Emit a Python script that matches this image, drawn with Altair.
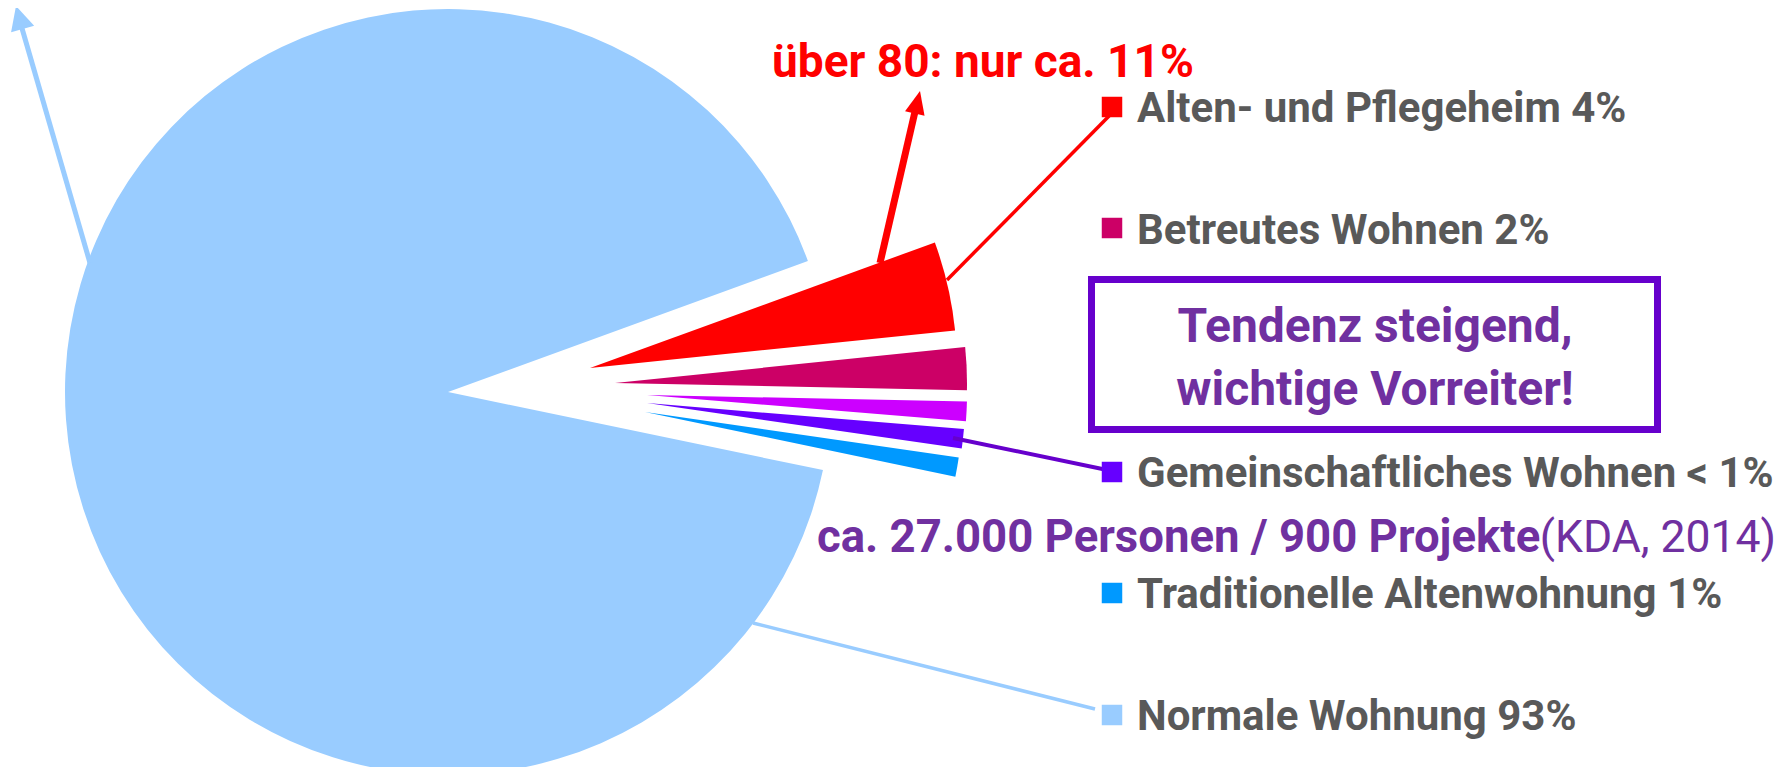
import math
import altair as alt
import pandas as pd

# ---------------- data ----------------
categories = ["Alten- und Pflegeheim", "Betreutes Wohnen", "Sonstiges",
              "Gemeinschaftliches Wohnen", "Traditionelle Altenwohnung", "Normale Wohnung"]
values = [4, 2, 1, 1, 1, 93]

legend_categories = ["Alten- und Pflegeheim", "Betreutes Wohnen", "Gemeinschaftliches Wohnen",
                     "Traditionelle Altenwohnung", "Normale Wohnung"]
legend_labels = ["Alten- und Pflegeheim 4%", "Betreutes Wohnen 2%", "Gemeinschaftliches Wohnen < 1%",
                 "Traditionelle Altenwohnung 1%", "Normale Wohnung 93%"]

note_red = "über 80: nur ca. 11%"
note_box = ["Tendenz steigend,", "wichtige Vorreiter!"]
note_count = "ca. 27.000 Personen / 900 Projekte"
note_source = "(KDA, 2014)"

# ---------------- style / layout ----------------
W, H = 1769, 759
CX, CY = 440, 384
START = math.radians(70)
colors = ["#FF0000", "#CC0066", "#CC00FF", "#6600FF", "#0099FF", "#99CCFF"]
explode_dx = [142, 167, 199, 199, 197, 0]
explode_dy = [-24, -9, 3, 11, 20, 0]
radii = [367, 352, 320, 318, 317, 383]
FONT = "Roboto, Liberation Sans, sans-serif"
GREY = "#595959"
PURPLE = "#7030A0"

pie_df = pd.DataFrame({
    "category": categories, "value": values, "order": list(range(len(values))),
    "dx": explode_dx, "dy": explode_dy, "r": radii,
})

cscale = alt.Scale(domain=categories, range=colors)

pie = alt.Chart(pie_df).transform_joinaggregate(
    total="sum(value)"
).transform_window(
    cum="sum(value)", sort=[alt.SortField("order")], frame=[None, 0]
).transform_calculate(
    f0="(datum.cum - datum.value) / datum.total",
    f1="datum.cum / datum.total",
    px=f"{CX} + datum.dx",
    py=f"{CY} + datum.dy",
).mark_arc().encode(
    theta=alt.Theta("f0:Q", scale=alt.Scale(domain=[0, 1], range=[START, START + 2 * math.pi])),
    theta2="f1:Q",
    radius=alt.Radius("r:Q", scale=None),
    x=alt.X("px:Q", scale=None, axis=None),
    y=alt.Y("py:Q", scale=None, axis=None),
    color=alt.Color("category:N", scale=cscale, legend=None),
)

seg_df = pd.DataFrame({
    "x": [82, 872, 939, 945, 745],
    "y": [255, 255, 272, 430, 615],
    "x2": [11, 909, 1104, 1104, 1087],
    "y2": [10, 95, 105, 463, 701],
    "c": ["#99CCFF", "#FF0000", "#FF0000", "#6600CC", "#99CCFF"],
    "w": [5, 7, 3.5, 4, 3.5],
})
segs = alt.Chart(seg_df).mark_rule().encode(
    x=alt.X("x:Q", scale=None, axis=None), y=alt.Y("y:Q", scale=None, axis=None),
    x2="x2:Q", y2="y2:Q",
    color=alt.Color("c:N", scale=None),
    strokeWidth=alt.StrokeWidth("w:Q", scale=None),
)

head_df = pd.DataFrame({
    "x": [11.3, 909.4], "y": [9.5, 94.2], "a": [343.9, 13.1],
    "c": ["#99CCFF", "#FF0000"], "s": [576, 529],
})
heads_blue = alt.Chart(head_df.iloc[[0]]).mark_point(
    shape="M0,-1L1,1L-1,1Z", filled=True, opacity=1, strokeWidth=0
).encode(
    x=alt.X("x:Q", scale=None, axis=None), y=alt.Y("y:Q", scale=None, axis=None),
    angle=alt.Angle("a:Q", scale=None), color=alt.Color("c:N", scale=None),
    size=alt.Size("s:Q", scale=None),
)
heads_red = alt.Chart(head_df.iloc[[1]]).mark_point(
    shape="M0,-1L0.87,1L-0.87,1Z", filled=True, opacity=1, strokeWidth=0
).encode(
    x=alt.X("x:Q", scale=None, axis=None), y=alt.Y("y:Q", scale=None, axis=None),
    angle=alt.Angle("a:Q", scale=None), color=alt.Color("c:N", scale=None),
    size=alt.Size("s:Q", scale=None),
)

leg_df = pd.DataFrame({
    "category": legend_categories, "label": legend_labels,
    "ys": [99, 220, 464, 585, 707], "yt": [114, 236, 479, 600, 722],
})
leg_sq = alt.Chart(leg_df).mark_square(size=420, opacity=1).encode(
    x=alt.value(1104), y=alt.Y("ys:Q", scale=None, axis=None),
    color=alt.Color("category:N", scale=cscale, legend=None),
)
leg_tx = alt.Chart(leg_df).mark_text(
    align="left", baseline="alphabetic", font=FONT, fontSize=42, fontWeight="bold", color=GREY
).encode(x=alt.value(1129), y=alt.Y("yt:Q", scale=None, axis=None), text="label:N")

box = alt.Chart(pd.DataFrame({"k": [0]})).mark_rect(
    fill="white", stroke="#6600CC", strokeWidth=7
).encode(x=alt.value(1083.5), x2=alt.value(1649.5), y=alt.value(271.5), y2=alt.value(421.5))

box_df = pd.DataFrame({"t": note_box, "y": [334, 397]})
box_tx = alt.Chart(box_df).mark_text(
    align="center", baseline="alphabetic", font=FONT, fontSize=48, fontWeight="bold", color=PURPLE
).encode(x=alt.value(1367), y=alt.Y("y:Q", scale=None, axis=None), text="t:N")

red_tx = alt.Chart(pd.DataFrame({"t": [note_red]})).mark_text(
    align="left", baseline="alphabetic", font=FONT, fontSize=46, fontWeight="bold", color="#FF0000"
).encode(x=alt.value(764), y=alt.value(69), text="t:N")

cnt_tx = alt.Chart(pd.DataFrame({"t": [note_count]})).mark_text(
    align="left", baseline="alphabetic", font=FONT, fontSize=45.5, fontWeight="bold", color=PURPLE
).encode(x=alt.value(809), y=alt.value(544), text="t:N")

src_tx = alt.Chart(pd.DataFrame({"t": [note_source]})).mark_text(
    align="right", baseline="alphabetic", font=FONT, fontSize=44.5, color=PURPLE
).encode(x=alt.value(1768), y=alt.value(544), text="t:N")

chart = alt.layer(
    pie, segs, heads_blue, heads_red, box, box_tx, leg_sq, leg_tx, red_tx, cnt_tx, src_tx
).properties(
    width=W, height=H, autosize=alt.AutoSizeParams(type="none"), padding=0
).configure_view(stroke=None)

chart.save("out.html", embed_options={"renderer": "svg", "actions": False})
